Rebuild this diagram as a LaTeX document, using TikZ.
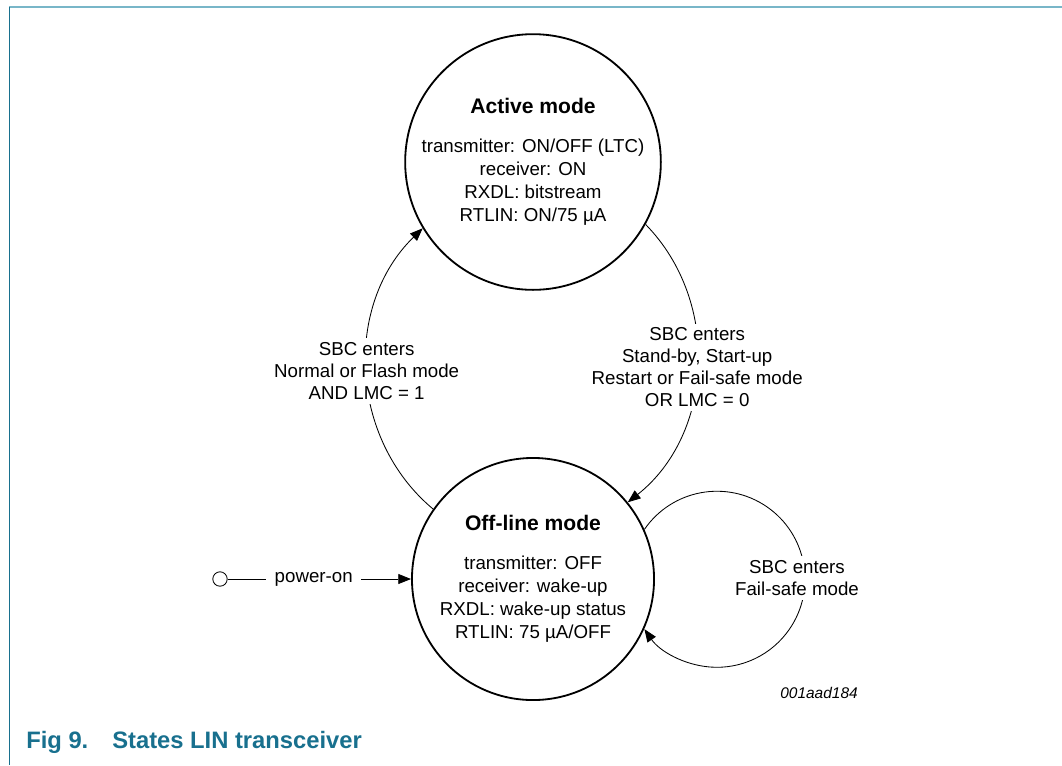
\documentclass[tikz,border=0pt]{standalone}
\usepackage{fontspec}
\setmainfont{Liberation Sans}
\usetikzlibrary{arrows.meta}

\definecolor{captionteal}{RGB}{24,112,142}
\definecolor{frameteal}{RGB}{120,182,200}

\tikzset{
	modecircle/.style={circle, draw, line width=1.3pt, minimum size=6.05cm, inner sep=0pt, align=center, font=\fontsize{13.3}{16.4}\selectfont},
	transition/.style={line width=0.6pt, -{Triangle[length=0.32cm, width=0.25cm]}},
	condition/.style={fill=white, align=center, inner xsep=2pt, inner ysep=3pt, font=\fontsize{13.3}{15.5}\selectfont},
	figcaption/.style={anchor=base west, inner sep=0pt, text=captionteal, font=\fontsize{16.9}{19}\selectfont\bfseries},
}
\newcommand{\modetitle}[1]{{\fontsize{15}{18}\selectfont\bfseries #1}}

\begin{document}
\begin{tikzpicture}[x=0.025cm, y=-0.025cm]

	\useasboundingbox (0,0) rectangle (1062,765);

	\draw [frameteal, line width=1.4pt] (9,7) -- (1062,7);
	\draw [captionteal, line width=1pt] (9.5,7) -- (9.5,765);

	\coordinate (PowerOn) at (220,579);
	\coordinate (LoopMid) at (797,578);

	\node [modecircle] (Active) at (533,162) {\modetitle{Active mode}\\[11pt] transmitter: ON/OFF (LTC)\\ receiver: ON\\ RXDL: bitstream\\ RTLIN: ON/75 µA};
	\node [modecircle] (Offline) at (533,579) {\modetitle{Off-line mode}\\[11pt] transmitter: OFF\\ receiver: wake-up\\ RXDL: wake-up status\\ RTLIN: 75 µA/OFF};

	\node [circle, draw, line width=0.6pt, minimum size=0.36cm, inner sep=0pt] (Start) at (PowerOn) {};

	\draw [transition] (Start) -- node [condition, inner xsep=6pt, xshift=-4pt] {power-on} (Offline);
	\draw [transition] (Offline.145) to [bend left=48] node [condition] {SBC enters\\ Normal or Flash mode\\ AND LMC = 1} (Active.211);
	\draw [transition] (Active.-29) to [bend left=48] node [condition] {SBC enters\\ Stand-by, Start-up\\ Restart or Fail-safe mode\\ OR LMC = 0} (Offline.39);
	\draw [transition] (Offline.24) arc [start angle=145.5, end angle=-145.5, radius=2.2cm];
	\node [condition] (LoopText) at (LoopMid) {SBC enters\\ Fail-safe mode};

	\node [font=\fontsize{11}{13}\selectfont\itshape] (FigCode) at (819,693) {001aad184};

	\node [figcaption] (FigNo) at (26,748) {Fig 9.};
	\node [figcaption] (FigTitle) at (112,748) {States LIN transceiver};

\end{tikzpicture}
\end{document}
